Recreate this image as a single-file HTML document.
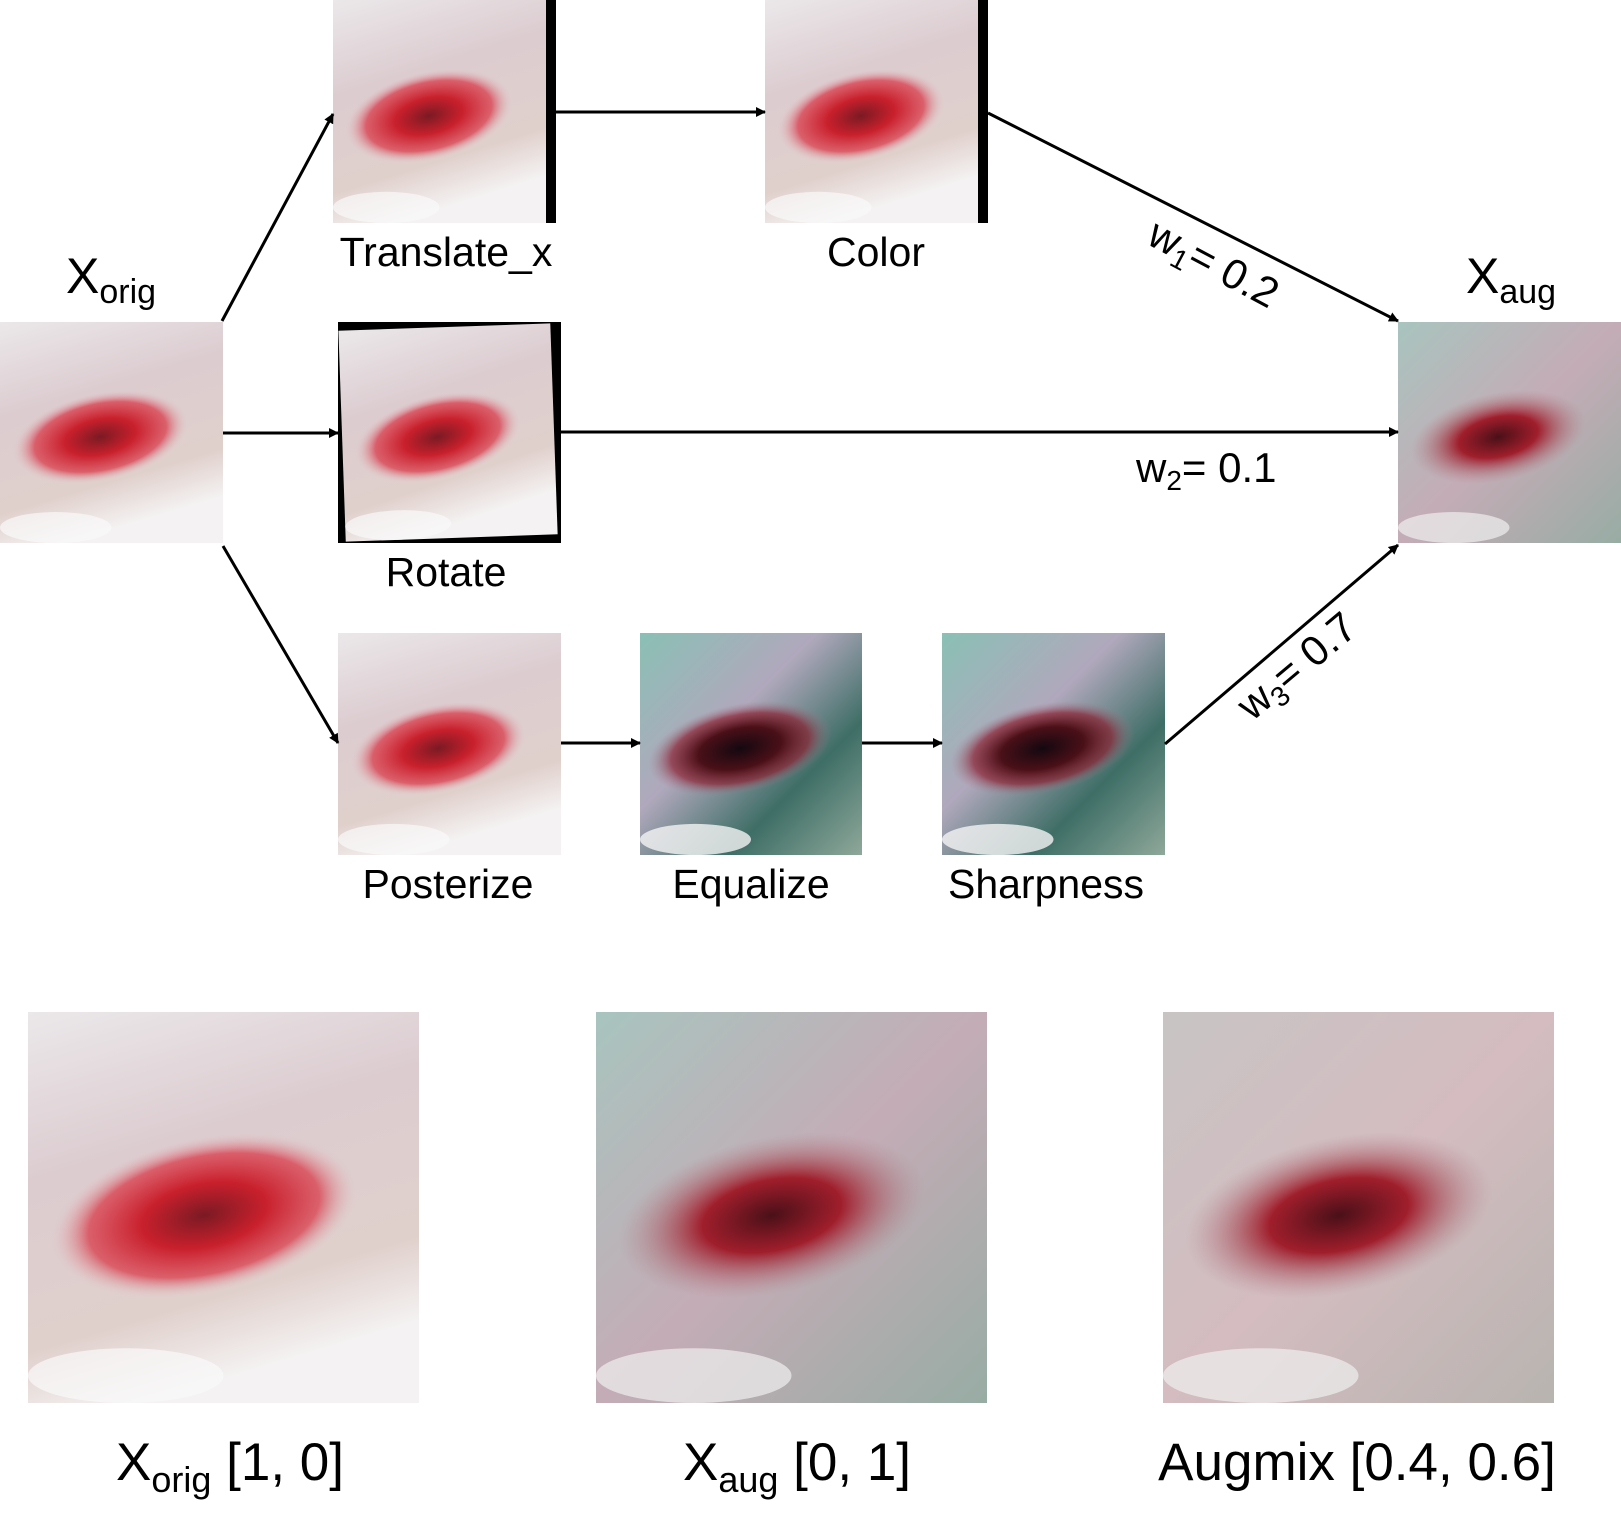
<!DOCTYPE html>
<html><head><meta charset="utf-8"><style>
html,body{margin:0;padding:0;background:#fff;}
svg{display:block;font-family:"Liberation Sans",sans-serif;}
</style></head><body>
<svg width="1621" height="1517" viewBox="0 0 1621 1517" xmlns="http://www.w3.org/2000/svg">
<defs>
  <radialGradient id="wound">
    <stop offset="0" stop-color="#7a1a24"/>
    <stop offset="0.4" stop-color="#c8202c"/>
    <stop offset="0.75" stop-color="#d83040" stop-opacity="0.7"/>
    <stop offset="1" stop-color="#e0c8cc" stop-opacity="0"/>
  </radialGradient>
  <linearGradient id="skin" x1="0" y1="0" x2="0.3" y2="1">
    <stop offset="0" stop-color="#ebe8ea"/>
    <stop offset="0.4" stop-color="#dcccd0"/>
    <stop offset="0.8" stop-color="#e0d0cc"/>
    <stop offset="1" stop-color="#f4f2f2"/>
  </linearGradient>
  <radialGradient id="woundT">
    <stop offset="0" stop-color="#140810"/>
    <stop offset="0.45" stop-color="#4a1018"/>
    <stop offset="0.75" stop-color="#8a2030" stop-opacity="0.7"/>
    <stop offset="1" stop-color="#a08090" stop-opacity="0"/>
  </radialGradient>
  <linearGradient id="teal" x1="0" y1="0" x2="1" y2="1">
    <stop offset="0" stop-color="#8ac0b5"/>
    <stop offset="0.4" stop-color="#b0a8bc"/>
    <stop offset="0.7" stop-color="#3e6e66"/>
    <stop offset="1" stop-color="#8fa89a"/>
  </linearGradient>
  <radialGradient id="woundA">
    <stop offset="0" stop-color="#4a1018"/>
    <stop offset="0.45" stop-color="#a01e2c"/>
    <stop offset="1" stop-color="#b08890" stop-opacity="0"/>
  </radialGradient>
  <linearGradient id="mix" x1="0" y1="0" x2="1" y2="1">
    <stop offset="0" stop-color="#a8c4be"/>
    <stop offset="0.5" stop-color="#c4acb6"/>
    <stop offset="1" stop-color="#98aca4"/>
  </linearGradient>
  <linearGradient id="mix2" x1="0" y1="0" x2="1" y2="1">
    <stop offset="0" stop-color="#c8c4c4"/>
    <stop offset="0.5" stop-color="#d4bcc0"/>
    <stop offset="1" stop-color="#b8b4b0"/>
  </linearGradient>
  <g id="pink"><rect width="1" height="1" fill="url(#skin)"/><ellipse cx="0.45" cy="0.52" rx="0.4" ry="0.2" transform="rotate(-12 0.45 0.52)" fill="url(#wound)"/><ellipse cx="0.25" cy="0.93" rx="0.25" ry="0.07" fill="#fafafa" opacity="0.7"/></g>
  <g id="tealimg"><rect width="1" height="1" fill="url(#teal)"/><ellipse cx="0.45" cy="0.52" rx="0.42" ry="0.2" transform="rotate(-12 0.45 0.52)" fill="url(#woundT)"/><ellipse cx="0.25" cy="0.93" rx="0.25" ry="0.07" fill="#f4f4f4" opacity="0.8"/></g>
  <g id="augimg"><rect width="1" height="1" fill="url(#mix)"/><ellipse cx="0.45" cy="0.52" rx="0.4" ry="0.2" transform="rotate(-12 0.45 0.52)" fill="url(#woundA)"/><ellipse cx="0.25" cy="0.93" rx="0.25" ry="0.07" fill="#f0f0f0" opacity="0.7"/></g>
  <g id="mixi"><rect width="1" height="1" fill="url(#mix2)"/><ellipse cx="0.45" cy="0.52" rx="0.4" ry="0.2" transform="rotate(-12 0.45 0.52)" fill="url(#woundA)"/><ellipse cx="0.25" cy="0.93" rx="0.25" ry="0.07" fill="#f0f0f0" opacity="0.7"/></g>
  <clipPath id="rc"><rect x="338" y="322" width="223" height="221"/></clipPath>
  <marker id="ah" markerWidth="10" markerHeight="10" refX="9" refY="5" orient="auto" markerUnits="userSpaceOnUse">
    <path d="M0,0 L10,5 L0,10 z" fill="#000"/>
  </marker>
</defs>

<use href="#pink" transform="translate(0,322) scale(223,221)"/>
<use href="#pink" transform="translate(333,0) scale(213,223)"/>
<rect x="546" y="0" width="10" height="223" fill="#000"/>
<use href="#pink" transform="translate(765,0) scale(213,223)"/>
<rect x="978" y="0" width="10" height="223" fill="#000"/>
<rect x="338" y="322" width="223" height="221" fill="#000"/>
<g clip-path="url(#rc)"><use href="#pink" transform="rotate(-2 449 432) translate(342,327) scale(212,211)"/></g>
<use href="#pink" transform="translate(338,633) scale(223,222)"/>
<use href="#tealimg" transform="translate(640,633) scale(222,222)"/>
<use href="#tealimg" transform="translate(942,633) scale(223,222)"/>
<use href="#augimg" transform="translate(1398,322) scale(223,221)"/>

<use href="#pink" transform="translate(28,1012) scale(391,391)"/>
<use href="#augimg" transform="translate(596,1012) scale(391,391)"/>
<use href="#mixi" transform="translate(1163,1012) scale(391,391)"/>

<g stroke="#000" stroke-width="3" fill="none" marker-end="url(#ah)">
  <line x1="222" y1="321" x2="333" y2="114"/>
  <line x1="223" y1="433" x2="338" y2="433"/>
  <line x1="223" y1="546" x2="338" y2="743"/>
  <line x1="556" y1="112" x2="765" y2="112"/>
  <line x1="988" y1="113" x2="1398" y2="321"/>
  <line x1="561" y1="432" x2="1398" y2="432"/>
  <line x1="561" y1="743" x2="640" y2="743"/>
  <line x1="862" y1="743" x2="942" y2="743"/>
  <line x1="1165" y1="744" x2="1398" y2="545"/>
</g>

<g fill="#000" font-size="41" text-anchor="middle">
  <text x="446" y="266">Translate_x</text>
  <text x="876" y="266">Color</text>
  <text x="446" y="586">Rotate</text>
  <text x="448" y="898">Posterize</text>
  <text x="751" y="898">Equalize</text>
  <text x="1046" y="898">Sharpness</text>
</g>
<g fill="#000" font-size="50">
  <text x="66" y="293">X<tspan font-size="34" dy="10">orig</tspan></text>
  <text x="1466" y="293">X<tspan font-size="34" dy="10">aug</tspan></text>
</g>
<g fill="#000" font-size="42">
  <text x="1136" y="482">w<tspan font-size="28" dy="8">2</tspan><tspan dy="-8">= 0.1</tspan></text>
  <text transform="translate(1145,243) rotate(28)">w<tspan font-size="28" dy="8">1</tspan><tspan dy="-8">= 0.2</tspan></text>
  <text transform="translate(1252,722) rotate(-40)">w<tspan font-size="28" dy="8">3</tspan><tspan dy="-8">= 0.7</tspan></text>
</g>
<g fill="#000" font-size="53">
  <text x="116" y="1480">X<tspan font-size="36" dy="12">orig</tspan><tspan dy="-12"> [1, 0]</tspan></text>
  <text x="683" y="1480">X<tspan font-size="36" dy="12">aug</tspan><tspan dy="-12"> [0, 1]</tspan></text>
  <text x="1357" y="1480" text-anchor="middle">Augmix [0.4, 0.6]</text>
</g>
</svg>
</body></html>
